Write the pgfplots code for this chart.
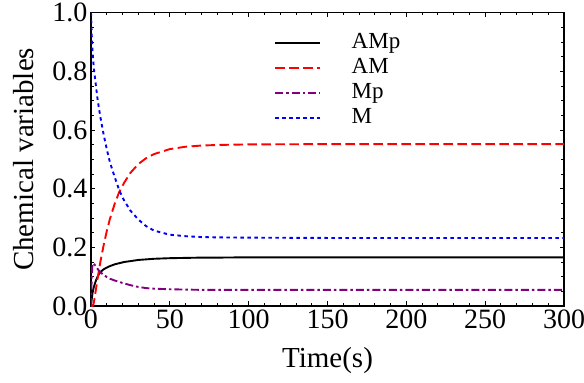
\documentclass[border=0pt]{standalone}
\usepackage{fontspec}
\setmainfont{Liberation Serif}
\usepackage{pgfplots}
\usepackage{pgfplotstable}
\pgfplotsset{compat=1.18}
\definecolor{mpurple}{RGB}{128,0,128}
\pgfplotstableread{
t AMp AM Mp M
0 0 0 0 1.0
0.25 0.015 0 0.06 0.96
0.5 0.025 0 0.10 0.92
0.75 0.036 0 0.13 0.89
1 0.045 0.001 0.143 0.865
1.5 0.058 0.005 0.146 0.83
2 0.068 0.018 0.143 0.80
3 0.085 0.052 0.136 0.757
4 0.098 0.088 0.128 0.712
5 0.108 0.120 0.121 0.675
6 0.116 0.152 0.115 0.643
8 0.125 0.207 0.106 0.585
10 0.131 0.255 0.099 0.535
12 0.136 0.297 0.093 0.49
15 0.142 0.348 0.087 0.44
18 0.146 0.390 0.082 0.393
21 0.150 0.420 0.077 0.36
25 0.153 0.454 0.071 0.325
30 0.157 0.484 0.065 0.295
35 0.159 0.504 0.061 0.272
40 0.161 0.518 0.059 0.257
50 0.163 0.535 0.057 0.243
60 0.164 0.543 0.056 0.238
70 0.165 0.547 0.055 0.235
80 0.165 0.549 0.055 0.234
100 0.166 0.551 0.055 0.233
150 0.166 0.552 0.055 0.232
200 0.166 0.552 0.055 0.232
300 0.166 0.552 0.055 0.232
}\datatable
\begin{document}
\begin{tikzpicture}
\begin{axis}[
  at={(0,0)}, anchor=south west,
  scale only axis, width=473pt, height=293.3pt,
  xmin=0, xmax=300, ymin=0, ymax=1,
  xtick={0,50,...,300}, ytick={0,0.2,...,1.0},
  minor x tick num=4, minor y tick num=3,
  tick align=inside,
  major tick length=4.5pt, minor tick length=2.7pt,
  every tick/.style={black, line width=0.9pt},
  axis line style={line width=1.4pt},
  /pgf/number format/assume math mode=true,
  yticklabel style={/pgf/number format/fixed, /pgf/number format/fixed zerofill, /pgf/number format/precision=1},
  tick label style={font=\fontsize{28}{30}\selectfont},
  label style={font=\fontsize{29}{31}\selectfont},
  xlabel={Time(s)}, ylabel={Chemical variables},
  xlabel style={at={(axis description cs:0.5,0)}, anchor=base, yshift=-61pt},
  ylabel style={at={(axis description cs:-0.1226,0.5)}, anchor=base},
  legend style={at={(rel axis cs:0.381,0.94)}, anchor=north west, draw=none, fill=none,
    font=\fontsize{23}{25}\selectfont, row sep=4pt,
    nodes={inner sep=1pt, text height=15pt, text depth=4pt},
    /tikz/every odd column/.append style={column sep=30pt}},
  legend cell align=left,
  legend image post style={xscale=2.6},
  every axis plot/.append style={line width=1.9pt, line join=round},
]
\addplot[black] table[x=t,y=AMp] {\datatable};
\addlegendentry{AMp}
\addplot[red, dash pattern=on 9.5pt off 4.5pt] table[x=t,y=AM] {\datatable};
\addlegendentry{AM}
\addplot[mpurple, dash pattern=on 8pt off 3pt on 2.5pt off 3pt] table[x=t,y=Mp] {\datatable};
\addlegendentry{Mp}
\addplot[blue, dash pattern=on 3.5pt off 3.5pt] table[x=t,y=M] {\datatable};
\addlegendentry{M}
\end{axis}
\pgfresetboundingbox
\path[use as bounding box] (-91pt,-77pt) rectangle (493pt,306pt);
\end{tikzpicture}
\end{document}
